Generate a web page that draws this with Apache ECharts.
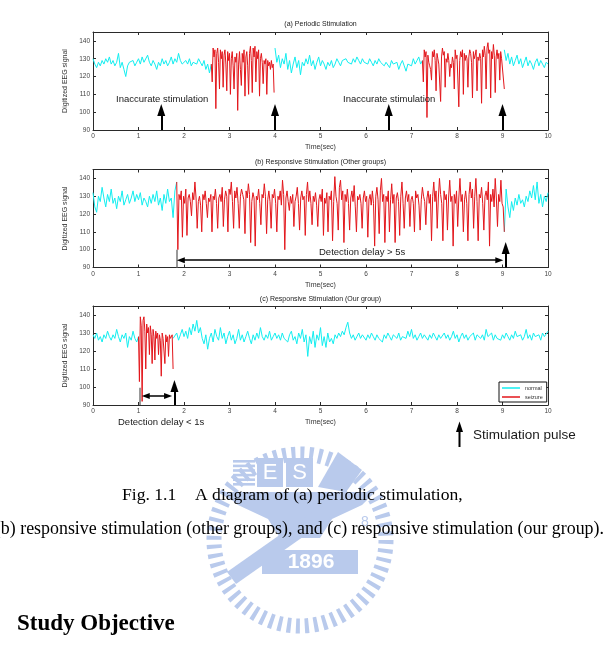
<!DOCTYPE html>
<html>
<head>
<meta charset="utf-8">
<script src="https://cdn.jsdelivr.net/npm/echarts@6/dist/echarts.min.js"></script>
<style>
  html, body { margin: 0; padding: 0; background: #fff; }
  #main { width: 604px; height: 646px; }
</style>
</head>
<body>
<div id="main"></div>
<script>
// EEG samples (values in digitized units)
// (a) periodic stimulation
const aNormal1 = [130,127,125,128,126,129,127,130,128,131, 127,129,126,128,133,125,128,124,120,126,
  128,127,129,126,128,130,127,131,128,129, 132,128,126,129,127,124,128,126,130,127,
  129,126,128,131,127,130,128,133,129,127, 126,129,127,130,126,128,129,127,130,128, 126,129,124,127,122,127];
const aSeizure1 = [127,117,136,131,135,102,133,136,128,113, 135,130,134,114,132,135,127,112,134,129,
  133,110,130,134,126,113,131,128,133,101, 127,134,124,115,133,128,135,109,131,134,
  126,110,133,137,129,111,136,131,137,117, 134,130,135,109,130,133,128,116,129,127,
  130,110,129,126,128,124,129,125,127,111];
const aNormal2 = [136,128,132,125,130,127,133,124,129,122, 127,131,125,129,121,128,126,130,127,132,
  126,129,124,128,131,126,129,127,124,128, 126,129,125,127,130,128,126,129,128,130,
  128,129,127,130,128,131,129,127,130,128, 129,127,130,128,126,129,127,130,128,129,
  126,128,127,125,129,127,126,128,124,127, 129,126,123,127,128,126,130,127,129,131, 127,129];
const aSeizure2 = [129,117,135,131,134, 97,132,128,126,124, 118,134,131,135,129, 112,133,130,127,126,
  106,131,136,132,134, 114,130,128,133,129, 120,127,125,131,128, 113,135,130,132,131,
  103,129,134,131,135, 110,133,129,132,130, 114,131,135,133,128, 108,134,130,132,135,
  112,131,129,133,130, 105,135,131,137,132, 113,136,139,133,135, 108,134,130,138,132,
  111,131,135,130,133, 118,134,130,131,129, 113];
const aNormal3 = [135,129,133,127,131,126,129,132,127,130,125,128,131,126,129,127,124,128,130,126,129,127,125,128,127];

// (b) responsive stimulation, other groups
const bNormal1 = [132,124,121,130,127,135,129,124,131,127, 134,126,129,123,130,127,133,125,128,131,
  126,129,133,127,131,128,132,125,129,127, 124,130,126,131,127,133,125,129,122,131, 126,134,127,129,118,133,138];
const bSeizure = [138,100,131,128,133,107,130,126, 134,108,129,131,127,119,132,128, 138,129,112,127,130,125,110,131,
  128,133,126,118,129,127,131,110, 130,128,134,126,112,129,131,127, 135,113,128,133,130,110,134,131,
  138,127,112,133,129,135,126,112, 130,134,131,128,109,133,129,137, 131,104,127,132,129,102,130,128,
  134,126,114,131,129,137,130,109, 128,133,127,112,131,129,134,126, 110,130,128,133,125,139,131,100,
  129,133,127,122,130,126,131,113, 127,130,135,126,111,129,133,128, 130,108,131,138,127,133,126,114,
  130,127,132,125,113,128,131,127, 134,108,129,126,132,110,130,128, 133,105,127,141,130,126,111,135,
  139,128,133,104,131,127,134,126, 111,129,133,127,136,124,110,130, 128,131,126,112,129,133,127,130,
  107,128,131,125,133,126,102,130, 135,128,109,133,140,127,131,104, 130,127,133,110,128,137,126,131,
  104,129,132,127,108,130,138,126, 112,129,133,127,131,113,128,130, 126,110,133,129,131,125,111,128,
  135,130,127,114,129,133,126,131, 105,130,138,127,133,112,129,140, 131,126,105,133,128,131,111,129,
  139,127,130,102,131,126,133,113, 129,140,127,131,110,128,133,126, 105,131,138,129,134,112,130,140,
  127,105,131,129,135,126,111,130, 133,128,138,102,131,127,134,124, 140,129,113,131,127,139,126,124, 110];
const bNormal2 = [110,134,124,118,127,122,129,125,131,126,128,124,130,127,133,129,136,128,138,126,131,124,130,127,132];

// (c) responsive stimulation, our group
const cNormal1 = [129,127,130,126,128,125,129,127,131,128,126,129,127,132,128,125,129,127,130,122,128,126,131,127,125,128];
const cSeizure = [128,103,139,134,92,137,139,131,110,135, 130,133,118,134,129,113,132,128,115,131,
  127,130,118,129,126,106,130,127,128,113, 129,125,128,117,129,127,128,129,110];
const cNormal2 = [127,127,130,126,129,132,128,131,127,133, 129,135,131,137,130,133,127,124,129,121,
  127,130,125,132,128,126,133,127,130,124, 128,131,126,129,124,127,132,126,129,125,
  128,131,127,124,129,126,130,127,133,128, 126,129,127,131,126,128,130,127,129,126,
  130,127,128,125,129,131,126,128,124,130, 127,132,125,129,117,128,124,131,122,129,
  126,133,123,128,122,130,125,127,124,129, 127,130,128,131,129,133,136,130,127,129,
  126,128,130,127,129,128,126,129,127,130, 128,126,129,127,128,125,129,127,130,128,
  126,129,128,127,130,126,128,129,127,131, 128,132,127,129,126,128,130,127,129,128,
  126,129,127,130,128,126,129,127,128,130, 127,129,126,128,131,127,129,125,128,130,
  127,129,126,128,127,130,126,129,128,127, 129,126,132,128,127,130,126,129,127,128,
  126,129,127,130,128,126,129,127,131,128, 127,129,126,128,132,127,129,126,130,128, 127,129,126,130,128,127,131];

// annotation positions (seconds / signal units)
const stimA = [1.5, 4.0, 6.5, 9.0];
const stimB = [9.07];
const stimC = [1.79];
const delayB = [1.93, 8.93];
const delayC = [1.16, 1.65];
const onsetB = 1.83;
const onsetC = 1.02;

const CYAN = '#12eef0';
const RED = '#e3161b';
const AX = '#2a2a2a';
const FONT = 'Liberation Sans, Arial, sans-serif';

function seg(t0, dt, vals) {
  return vals.map((v, i) => [+(t0 + i * dt).toFixed(3), v]);
}

const chart = echarts.init(document.getElementById('main'), null, { renderer: 'canvas' });

const grids = [
  { left: 93, top: 32, width: 455, height: 98 },
  { left: 93, top: 169.5, width: 455, height: 98 },
  { left: 93, top: 306, width: 455, height: 99 }
];

const xAxes = [], yAxes = [];
grids.forEach((g, p) => {
  xAxes.push({
    gridIndex: p, type: 'value', min: 0, max: 10, interval: 1, position: 'bottom',
    axisLine: { onZero: false, lineStyle: { color: AX, width: 1 } },
    axisTick: { inside: true, length: 3, lineStyle: { color: AX } },
    axisLabel: { fontSize: 6.5, color: '#444', margin: 3, fontFamily: FONT },
    splitLine: { show: false },
    name: 'Time(sec)', nameLocation: 'middle', nameGap: 14,
    nameTextStyle: { fontSize: 7, color: '#333', fontFamily: FONT }
  });
  xAxes.push({
    gridIndex: p, type: 'value', min: 0, max: 10, interval: 1, position: 'top',
    axisLine: { onZero: false, lineStyle: { color: AX, width: 1 } },
    axisTick: { inside: true, length: 3, lineStyle: { color: AX } },
    axisLabel: { show: false }, splitLine: { show: false }
  });
  yAxes.push({
    gridIndex: p, type: 'value', min: 90, max: 145, interval: 10, position: 'left',
    axisLine: { onZero: false, lineStyle: { color: AX, width: 1 } },
    axisTick: { inside: true, length: 3, lineStyle: { color: AX } },
    axisLabel: { fontSize: 6.5, color: '#444', margin: 3, fontFamily: FONT,
      formatter: v => (v % 10 === 0 ? String(v) : '') },
    splitLine: { show: false },
    name: 'Digitized EEG signal', nameLocation: 'middle', nameGap: 17,
    nameTextStyle: { fontSize: 7, color: '#333', fontFamily: FONT }
  });
  yAxes.push({
    gridIndex: p, type: 'value', min: 90, max: 145, interval: 10, position: 'right',
    axisLine: { onZero: false, lineStyle: { color: AX, width: 1 } },
    axisTick: { inside: true, length: 3, lineStyle: { color: AX } },
    axisLabel: { show: false }, splitLine: { show: false }
  });
});

function line(name, data, p, extra) {
  const color = name === 'normal' ? CYAN : RED;
  return Object.assign({
    name, type: 'line', data, xAxisIndex: 2 * p, yAxisIndex: 2 * p,
    symbol: 'none', showSymbol: false, animation: false,
    lineStyle: { width: 1, color }, itemStyle: { color },
    z: name === 'normal' ? 2 : 3
  }, extra || {});
}

const arrowStyle = { color: '#000', width: 2, type: 'solid' };
function upArrow(x, tip) {
  return [
    { coord: [x, 90], symbol: 'none', lineStyle: arrowStyle },
    { coord: [x, tip], symbol: 'triangle', symbolSize: [8, 12] }
  ];
}
function spanArrow(xs, y) {
  return [
    { coord: [xs[0], y], symbol: 'triangle', symbolSize: [6, 8], lineStyle: { color: '#000', width: 1.5, type: 'solid' } },
    { coord: [xs[1], y], symbol: 'triangle', symbolSize: [6, 8] }
  ];
}
function onsetLine(x, top) {
  return [
    { coord: [x, 90], symbol: 'none', lineStyle: { color: '#777', width: 1.5, type: 'solid' } },
    { coord: [x, top], symbol: 'none' }
  ];
}
function marks(data) {
  return { markLine: { silent: true, animation: false, label: { show: false }, data } };
}

const series = [
  line('normal', seg(0, 0.04, aNormal1), 0, marks(stimA.map(x => upArrow(x, 101.2)))),
  line('seizure', seg(2.60, 0.02, aSeizure1), 0),
  line('normal', seg(4.00, 0.04, aNormal2), 0),
  line('seizure', seg(7.24, 0.02, aSeizure2), 0),
  line('normal', seg(9.04, 0.04, aNormal3), 0),

  line('normal', seg(0, 0.04, bNormal1), 1,
    marks([onsetLine(onsetB, 100), spanArrow(delayB, 94.1)].concat(stimB.map(x => upArrow(x, 101))))),
  line('seizure', seg(1.84, 0.025, bSeizure), 1),
  line('normal', seg(9.04, 0.04, bNormal2), 1),

  line('normal', seg(0, 0.04, cNormal1), 2,
    marks([onsetLine(onsetC, 99.6), spanArrow(delayC, 95)].concat(stimC.map(x => upArrow(x, 100.6))))),
  line('seizure', seg(1.00, 0.02, cSeizure), 2),
  line('normal', seg(1.76, 0.04, cNormal2), 2)
];

// faint university seal behind the caption
const WM = '#b9caec';
const books = [];
for (let i = 0; i < 6; i++) {
  books.push({ type: 'rect', shape: { x: 233, y: 460 + i * 4.6, width: 22, height: 2.6 }, style: { fill: WM }, z: 0 });
}
const watermark = [
  { type: 'circle', shape: { cx: 300, cy: 540, r: 86 }, style: { fill: null, stroke: WM, lineWidth: 15, lineDash: [4, 5] }, z: 0 },
  ...books,
  { type: 'rect', shape: { x: 257, y: 458, width: 26, height: 29 }, style: { fill: WM }, z: 0 },
  { type: 'rect', shape: { x: 286, y: 458, width: 27, height: 29 }, style: { fill: WM }, z: 0 },
  { type: 'polygon', shape: { points: [[318, 487], [338, 452], [362, 470], [346, 492]] }, style: { fill: WM }, z: 0 },
  { type: 'text', x: 270, y: 473, style: { text: 'E', fill: '#fff', font: '22px Liberation Sans', align: 'center', verticalAlign: 'middle' }, z: 1 },
  { type: 'text', x: 299.5, y: 473, style: { text: 'S', fill: '#fff', font: '22px Liberation Sans', align: 'center', verticalAlign: 'middle' }, z: 1 },
  { type: 'text', x: 340, y: 473, rotation: -0.6, originX: 340, originY: 473, style: { text: 'A', fill: '#fff', font: '18px Liberation Sans', align: 'center', verticalAlign: 'middle' }, z: 1 },
  { type: 'polygon', shape: { points: [[222, 492], [375, 492], [362, 505], [332, 519], [320, 538], [280, 538], [268, 519], [238, 505]] }, style: { fill: WM }, z: 0 },
  { type: 'polygon', shape: { points: [[227, 572], [345, 489], [354, 501], [236, 584]] }, style: { fill: WM }, z: 0 },
  { type: 'rect', shape: { x: 262, y: 550, width: 96, height: 24 }, style: { fill: WM }, z: 0 },
  { type: 'text', x: 311, y: 562, style: { text: '1896', fill: '#fff', font: 'bold 21px Liberation Sans', align: 'center', verticalAlign: 'middle' }, z: 1 },
  { type: 'text', x: 365, y: 522, style: { text: '8', fill: WM, font: '14px Liberation Sans', align: 'center', verticalAlign: 'middle' }, z: 1 }
];

function txt(x, y, s, size) {
  return {
    type: 'text', x, y, z: 20,
    style: { text: s, fill: '#1a1a1a', font: size + 'px ' + FONT, align: 'left', verticalAlign: 'middle' }
  };
}
const SERIF = 'Liberation Serif, Times New Roman, serif';
const CAP = '17.6px ' + SERIF;

const labels = [
  txt(116, 99.5, 'Inaccurate stimulation', 9.5),
  txt(343, 99.5, 'Inaccurate stimulation', 9.5),
  txt(319, 252, 'Detection delay > 5s', 9.5),
  txt(118, 422, 'Detection delay < 1s', 9.5),
  txt(473, 435, 'Stimulation pulse', 13.5),
  { type: 'line', shape: { x1: 459.5, y1: 447, x2: 459.5, y2: 430 }, style: { stroke: '#000', lineWidth: 2 }, z: 20 },
  { type: 'polygon', shape: { points: [[456, 432], [459.5, 421.5], [463, 432]] }, style: { fill: '#000' }, z: 20 },
  { type: 'text', x: 122, y: 495, z: 20, style: { text: 'Fig. 1.1', fill: '#000', font: CAP, verticalAlign: 'middle' } },
  { type: 'text', x: 195, y: 495, z: 20, style: { text: 'A diagram of (a) periodic stimulation,', fill: '#000', font: CAP, verticalAlign: 'middle' } },
  { type: 'text', x: 604, y: 529, z: 20, style: { text: '(b) responsive stimulation (other groups), and (c) responsive stimulation (our group).', fill: '#000', font: '17.9px ' + SERIF, align: 'right', verticalAlign: 'middle' } },
  { type: 'text', x: 17, y: 624, z: 20, style: { text: 'Study Objective', fill: '#000', font: 'bold 23px ' + SERIF, verticalAlign: 'middle' } }
];

const titleText = { fontSize: 7, fontWeight: 'normal', color: '#222' };
const option = {
  backgroundColor: '#fff',
  animation: false,
  textStyle: { fontFamily: FONT },
  title: [
    { text: '(a) Periodic Stimulation', left: 320.5, top: 21, padding: 0, textAlign: 'center', textStyle: titleText },
    { text: '(b) Responsive Stimulation (Other groups)', left: 320.5, top: 158.5, padding: 0, textAlign: 'center', textStyle: titleText },
    { text: '(c) Responsive Stimulation (Our group)', left: 320.5, top: 295.5, padding: 0, textAlign: 'center', textStyle: titleText }
  ],
  legend: {
    data: ['normal', 'seizure'], orient: 'vertical', left: 499, top: 382,
    icon: 'rect', itemWidth: 18, itemHeight: 1.5, itemGap: 3,
    padding: [3, 4, 2, 3], borderColor: '#111', borderWidth: 1, backgroundColor: '#fff',
    textStyle: { fontSize: 5.5, color: '#333', fontFamily: FONT }
  },
  grid: grids,
  xAxis: xAxes,
  yAxis: yAxes,
  series,
  graphic: watermark.concat(labels)
};

chart.setOption(option);
</script>
</body>
</html>
